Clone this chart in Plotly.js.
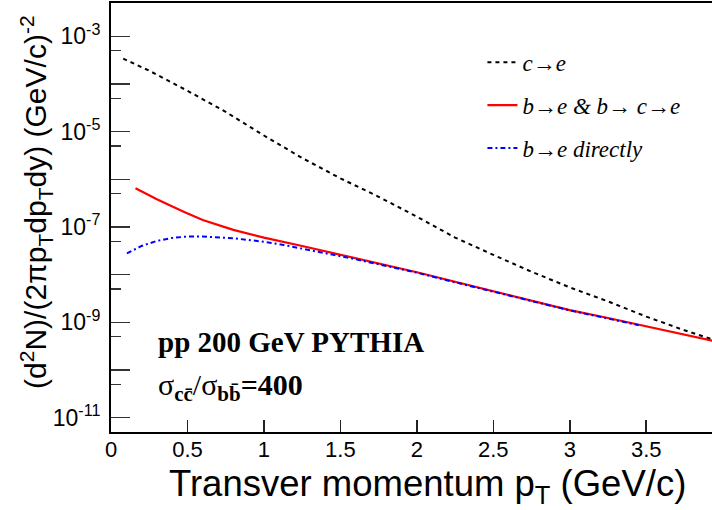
<!DOCTYPE html>
<html>
<head>
<meta charset="utf-8">
<script src="https://cdn.plot.ly/plotly-3.0.1.min.js"></script>
<style>html,body{margin:0;padding:0;background:#fff;overflow:hidden;}#chart{width:712px;height:510px;}</style>
</head>
<body>
<div id="chart"></div>
<script>
// c -> e (black dashed)
const ptCharm = [0.08, 0.25, 0.5, 0.75, 1.0, 1.25, 1.5, 1.75, 2.0, 2.25, 2.5, 2.75, 3.0, 3.25, 3.5, 3.75, 3.95];
const yCharm  = [3.4e-4, 1.9e-4, 7.2e-5, 2.6e-5, 8.3e-6, 2.8e-6, 1.05e-6, 4.3e-7, 1.65e-7, 6.0e-8, 2.6e-8, 1.15e-8, 5.4e-9, 2.75e-9, 1.32e-9, 6.8e-10, 4.2e-10];
// b -> e & b -> c -> e (red solid)
const ptBottom = [0.16, 0.3, 0.475, 0.6, 0.8, 1.0, 1.25, 1.5, 1.75, 2.0, 2.25, 2.5, 2.75, 3.0, 3.25, 3.5, 3.75, 3.95];
const yBottom  = [6.5e-7, 3.8e-7, 2.1e-7, 1.4e-7, 8.7e-8, 6.0e-8, 4.0e-8, 2.63e-8, 1.7e-8, 1.12e-8, 7.1e-9, 4.5e-9, 2.8e-9, 1.8e-9, 1.23e-9, 8.3e-10, 5.6e-10, 4.0e-10];
// b -> e directly (blue dash-dot)
const ptDirect = [0.104, 0.2, 0.3, 0.4, 0.5, 0.6, 0.8, 1.0, 1.128, 1.25, 1.455, 1.6, 1.75, 2.0, 2.25, 2.5, 2.75, 3.0, 3.25, 3.45];
const yDirect  = [2.8e-8, 4.0e-8, 5.1e-8, 5.9e-8, 6.3e-8, 6.3e-8, 5.8e-8, 4.9e-8, 4.2e-8, 3.55e-8, 2.6e-8, 2.1e-8, 1.66e-8, 1.1e-8, 6.9e-9, 4.4e-9, 2.75e-9, 1.78e-9, 1.2e-9, 8.7e-10];

const yMajorVals = [1e-3, 1e-4, 1e-5, 1e-6, 1e-7, 1e-8, 1e-9, 1e-10, 1e-11];
const yMajorText = ['10<sup>-3</sup>', '', '10<sup>-5</sup>', '', '10<sup>-7</sup>', '', '10<sup>-9</sup>', '', '10<sup>-11</sup>'];
const yMinorVals = [5e-4, 5e-5, 5e-6, 5e-7, 5e-8, 5e-9, 5e-10, 5e-11, 5e-12];
const xTickVals = [0, 0.5, 1, 1.5, 2, 2.5, 3, 3.5];
const xTickText = ['0', '0.5', '1', '1.5', '2', '2.5', '3', '3.5'];

const traces = [
  {x: ptCharm, y: yCharm, type: 'scatter', mode: 'lines', name: 'c→e', legendgroup: 'a',
   line: {color: '#000000', width: 2, dash: '4px,4px'}},
  {x: ptBottom, y: yBottom, type: 'scatter', mode: 'lines', name: 'b→e &amp; b→ c→e', legendgroup: 'b',
   line: {color: '#ff0000', width: 2.2}},
  {x: ptDirect, y: yDirect, type: 'scatter', mode: 'lines', name: 'b→e directly', legendgroup: 'c',
   line: {color: '#0000ff', width: 2, dash: '5px,3px,2px,3px'}}
];

const sans = 'Liberation Sans, Arial, sans-serif';
const serif = 'Liberation Serif, Times New Roman, serif';

const layout = {
  width: 712, height: 510,
  margin: {l: 111, r: 0, t: 3, b: 78},
  paper_bgcolor: '#ffffff', plot_bgcolor: '#ffffff',
  showlegend: true,
  legend: {x: 0.618, xanchor: 'left', y: 0.912, yanchor: 'top', traceorder: 'grouped', tracegroupgap: 10,
           font: {family: serif, size: 23, style: 'italic', color: '#000'}, bgcolor: 'rgba(0,0,0,0)', itemwidth: 30},
  xaxis: {range: [0, 3.93], showgrid: false, zeroline: false, showline: true, linecolor: '#000', linewidth: 2,
          mirror: true, ticks: 'inside', ticklen: 12, tickwidth: 1.5, tickcolor: '#222',
          tickmode: 'array', tickvals: xTickVals, ticktext: xTickText,
          tickfont: {family: sans, size: 22, color: '#000'}, ticklabelstandoff: -3},
  yaxis: {type: 'log', range: [Math.log10(5e-12), Math.log10(5e-3)], showgrid: false, zeroline: false,
          showline: true, linecolor: '#000', linewidth: 2, mirror: false,
          ticks: 'inside', ticklen: 19, tickwidth: 1.5, tickcolor: '#333',
          tickmode: 'array', tickvals: yMajorVals, ticktext: yMajorText,
          tickfont: {family: sans, size: 23, color: '#000'}, ticklabelstandoff: 4,
          minor: {tickmode: 'array', tickvals: yMinorVals, ticks: 'inside', ticklen: 10, tickwidth: 1.5, tickcolor: '#333', showgrid: false}},
  annotations: [
    {text: 'Transver momentum p<sub>T</sub> (GeV/c)', xref: 'paper', yref: 'paper', x: 0.526, y: -0.126,
     xanchor: 'center', yanchor: 'middle', showarrow: false, font: {family: sans, size: 36.5, color: '#000'}},
    {text: '(d<sup>2</sup>N)/(2πp<sub>T</sub>dp<sub>T</sub>dy) (GeV/c)<sup>-2</sup>', xref: 'paper', yref: 'paper',
     x: -0.125, y: 0.536, xanchor: 'center', yanchor: 'middle', textangle: -90, showarrow: false,
     font: {family: sans, size: 30, color: '#000'}},
    {text: '<b>pp 200 GeV PYTHIA</b>', xref: 'paper', yref: 'paper', x: 0.0745, y: 0.21,
     xanchor: 'left', yanchor: 'middle', showarrow: false, font: {family: serif, size: 29, color: '#000'}},
    {text: 'σ<sub><b>cc̄</b></sub>/σ<sub><b>bb̄</b></sub><b>=400</b>', xref: 'paper', yref: 'paper', x: 0.0745, y: 0.105,
     xanchor: 'left', yanchor: 'middle', showarrow: false, font: {family: serif, size: 30, color: '#000'}}
  ]
};

Plotly.newPlot('chart', traces, layout, {displayModeBar: false, staticPlot: true});
</script>
</body>
</html>
